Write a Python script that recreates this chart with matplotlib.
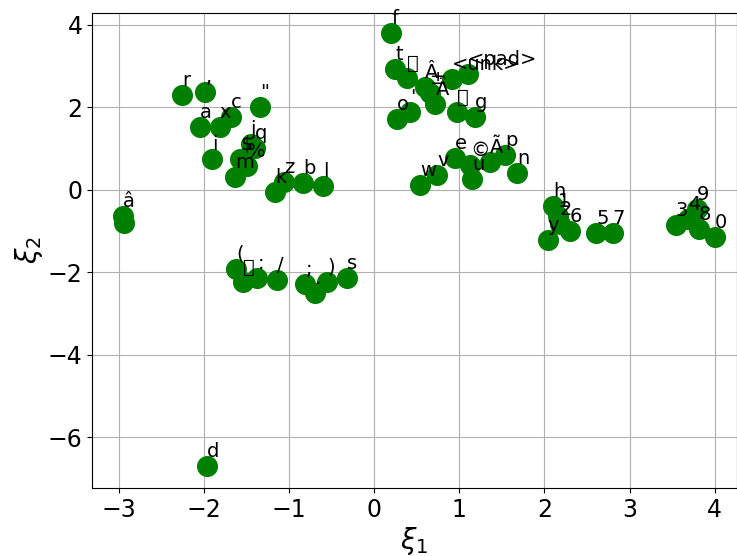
import numpy as np
import matplotlib
matplotlib.use("Agg")
import matplotlib.pyplot as plt

# character embedding, 2d
chars = ["â", " ", "r", ",", "a", "x", "c", '"', "i", "j", "q", "$", "%", "m",
         "k", "z", "b", "l",
         "(", "\x80", ":", "/", ";", ".", ")", "s", "d",
         "f", "t", "\x9c", "Â", "±", "Ä", "'", "o", "<unk>", "<pad>", "\x9d", "g",
         "w", "v", "e", "©", "u", "Ã", "p", "n",
         "h", "1", "2", "6", "y", "5", "7", "3", "4", "9", "8", "0"]
xi1 = [-2.95, -2.93, -2.25, -1.98, -2.04, -1.81, -1.68, -1.34, -1.90, -1.45, -1.40, -1.57, -1.49, -1.63,
       -1.16, -1.06, -0.83, -0.60,
       -1.62, -1.54, -1.37, -1.14, -0.81, -0.69, -0.55, -0.32, -1.96,
       0.20, 0.25, 0.39, 0.60, 0.66, 0.72, 0.42, 0.27, 0.91, 1.10, 0.97, 1.18,
       0.54, 0.74, 0.95, 1.13, 1.15, 1.36, 1.54, 1.68,
       2.10, 2.16, 2.18, 2.30, 2.04, 2.61, 2.80, 3.54, 3.68, 3.79, 3.81, 4.00]
xi2 = [-0.64, -0.81, 2.30, 2.37, 1.52, 1.52, 1.77, 2.01, 0.75, 1.11, 1.01, 0.75, 0.58, 0.31,
       -0.05, 0.19, 0.16, 0.09,
       -1.92, -2.23, -2.14, -2.18, -2.28, -2.50, -2.24, -2.14, -6.70,
       3.81, 2.93, 2.71, 2.50, 2.35, 2.08, 1.89, 1.72, 2.69, 2.81, 1.89, 1.77,
       0.12, 0.36, 0.77, 0.60, 0.26, 0.67, 0.84, 0.41,
       -0.39, -0.64, -0.83, -1.00, -1.22, -1.05, -1.05, -0.85, -0.71, -0.47, -0.95, -1.15]

fig = plt.figure(figsize=(7.37, 5.56), dpi=100)
ax = fig.add_axes([0.125, 0.122, 0.875, 0.855])

ax.scatter(xi1, xi2, s=200, c="green", zorder=3)
for ch, x, y in zip(chars, xi1, xi2):
    ax.annotate(ch, (x, y), xytext=(0, 6.5), textcoords="offset points",
                fontsize=14, zorder=4)

ax.set_xlim(-3.31, 4.26)
ax.set_ylim(-7.24, 4.29)
ax.set_xticks([-3, -2, -1, 0, 1, 2, 3, 4])
ax.set_yticks([-6, -4, -2, 0, 2, 4])
ax.tick_params(labelsize=17)
ax.grid(True)
ax.set_axisbelow(True)
ax.set_xlabel(r"$\xi_1$", fontsize=20, labelpad=2)
ax.set_ylabel(r"$\xi_2$", fontsize=20, labelpad=2)

fig.savefig("out.png", dpi=100)
